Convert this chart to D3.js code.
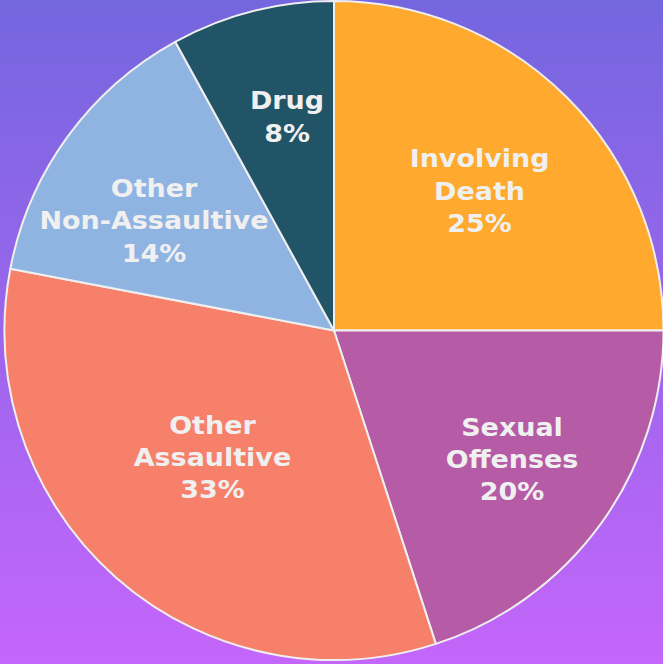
<!DOCTYPE html>
<html><head><meta charset="utf-8">
<script src="https://cdn.jsdelivr.net/npm/d3@7"></script>
<style>html,body{margin:0;padding:0;overflow:hidden;}</style>
</head><body>
<svg id="chart" width="663" height="664"></svg>
<script>
const categories = ["Involving Death", "Sexual Offenses", "Other Assaultive", "Other Non-Assaultive", "Drug"];
const labelLines = [["Involving", "Death"], ["Sexual", "Offenses"], ["Other", "Assaultive"], ["Other", "Non-Assaultive"], ["Drug"]];
const values = [25, 20, 33, 14, 8];

const colors = ["#ffa92e", "#b65ca6", "#f6806a", "#90b4e2", "#225467"];
// label placement tweaks (radius fraction, angle shift in degrees)
const labelRadiusFrac = [0.612, 0.667, 0.533, 0.64, 0.664];
const labelAngleShift = [1.2, -0.1, 2.4, -4.6, 2.0];

const W = 663, H = 664;
const cx = 334, cy = 330.5, R = 329.5;
const svg = d3.select("#chart");

const defs = svg.append("defs");
const grad = defs.append("linearGradient").attr("id", "bg").attr("x1", 0).attr("y1", 0).attr("x2", 0).attr("y2", 1);
grad.append("stop").attr("offset", "0%").attr("stop-color", "#7466de");
grad.append("stop").attr("offset", "100%").attr("stop-color", "#c466fa");
svg.append("rect").attr("width", W).attr("height", H).attr("fill", "url(#bg)");

const pie = d3.pie().sort(null).value(d => d);
const arcs = pie(values);
const arc = d3.arc().innerRadius(0).outerRadius(R);
const color = d3.scaleOrdinal().domain(categories).range(colors);

const g = svg.append("g").attr("transform", `translate(${cx},${cy})`);
g.selectAll("path").data(arcs).join("path")
  .attr("d", arc)
  .attr("fill", (d, i) => color(categories[i]))
  .attr("stroke", "#efefef")
  .attr("stroke-width", 2)
  .attr("stroke-linejoin", "round");

const fs = 24.5, lh = 32.3, sx = 1.1;
arcs.forEach((d, i) => {
  const a = (d.startAngle + d.endAngle) / 2 + labelAngleShift[i] * Math.PI / 180;
  const r = R * labelRadiusFrac[i];
  const x = r * Math.sin(a), y = -r * Math.cos(a);
  const total = Math.round(values[i] / d3.sum(values) * 100) + "%";
  const lines = labelLines[i].concat([total]);
  const n = lines.length;
  const t = g.append("g").attr("transform", `translate(${x},${y}) scale(${sx},1)`)
    .append("text")
    .attr("text-anchor", "middle")
    .attr("font-family", "'DejaVu Sans', Verdana, sans-serif")
    .attr("font-weight", "bold")
    .attr("font-size", fs)
    .attr("fill", "#f0f0f0");
  lines.forEach((ln, j) => {
    t.append("tspan")
      .attr("x", 0)
      .attr("y", (j - (n - 1) / 2) * lh)
      .attr("dy", "0.36em")
      .text(ln);
  });
});
</script>
</body></html>
